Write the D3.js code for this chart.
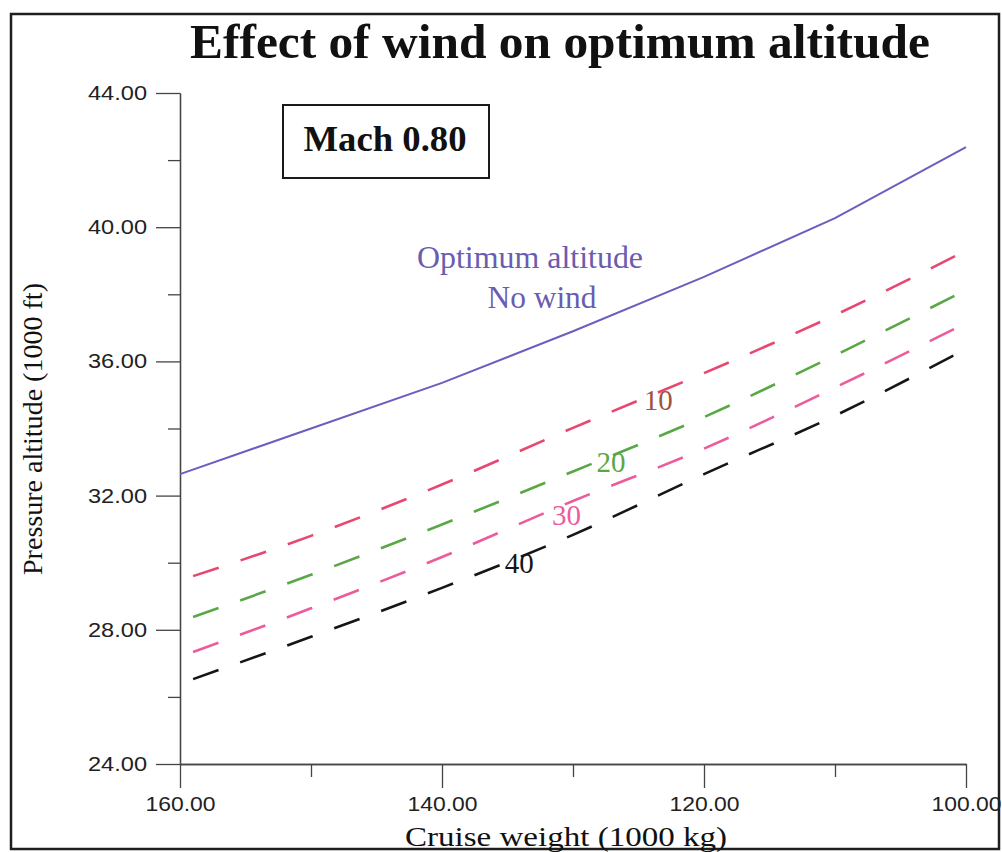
<!DOCTYPE html>
<html>
<head>
<meta charset="utf-8">
<script src="https://cdn.jsdelivr.net/npm/d3@7/dist/d3.min.js"></script>
<style>
  html, body { margin: 0; padding: 0; background: #fff; }
  svg { display: block; }
</style>
</head>
<body>
<svg id="chart" width="1002" height="852"></svg>
<script>
// Cruise weight (1000 kg), plotted heaviest on the left
const weights = [160, 150, 140, 130, 120, 110, 100];
const windWeights = [159, 150, 140, 130, 120, 110, 100];

// Pressure altitude (1000 ft)
const noWind = [32.64, 34.0, 35.36, 36.9, 38.52, 40.27, 42.39];
const wind10 = [29.60, 30.80, 32.33, 34.02, 35.65, 37.38, 39.30];
const wind20 = [28.38, 29.64, 31.14, 32.72, 34.34, 36.18, 38.13];
const wind30 = [27.34, 28.64, 30.17, 31.84, 33.40, 35.22, 37.14];
const wind40 = [26.53, 27.79, 29.25, 30.83, 32.64, 34.38, 36.37];

const windNames = ["10", "20", "30", "40"];
// where each wind label sits, in (weight, altitude)
const windLabelWeight = [123.5, 127.1, 130.5, 134.1];
const windLabelAlt = [34.55, 32.70, 31.12, 29.69];

const yMajorTicks = [24, 28, 32, 36, 40, 44];
const yMinorTicks = [26, 30, 34, 38, 42];
const xMajorTicks = [160, 140, 120, 100];
const xMinorTicks = [150, 130, 110];

const svg = d3.select("#chart");
const serif = "'Liberation Serif', 'Times New Roman', serif";
const sans = "'Liberation Sans', Arial, sans-serif";

const x = d3.scaleLinear().domain([160, 100]).range([180, 966]);
const y = d3.scaleLinear().domain([24, 44]).range([764, 93]);

// outer frame
svg.append("rect")
  .attr("x", 11).attr("y", 14).attr("width", 988).attr("height", 835)
  .attr("fill", "none").attr("stroke", "#1e1e1e").attr("stroke-width", 2.5);

// title
svg.append("text")
  .attr("x", 560).attr("y", 58)
  .attr("text-anchor", "middle")
  .attr("font-family", serif).attr("font-weight", "bold").attr("font-size", 48)
  .attr("textLength", 740).attr("lengthAdjust", "spacingAndGlyphs")
  .attr("fill", "#111")
  .text("Effect of wind on optimum altitude");

// axes
function styleAxis(g) {
  g.selectAll("path, line").attr("stroke", "#444").attr("stroke-width", 1.3);
  g.selectAll("text").attr("fill", "#222")
    .attr("font-family", sans).attr("font-size", 20);
}

const yMinor = svg.append("g").attr("transform", `translate(${x(160)},0)`)
  .call(d3.axisLeft(y).tickValues(yMinorTicks).tickSize(12).tickSizeOuter(0).tickFormat(""));
styleAxis(yMinor);
const yAxis = svg.append("g").attr("transform", `translate(${x(160)},0)`)
  .call(d3.axisLeft(y).tickValues(yMajorTicks).tickSize(24).tickSizeOuter(0)
    .tickPadding(9).tickFormat(d3.format(".2f")));
styleAxis(yAxis);
yAxis.selectAll("text").attr("textLength", 59).attr("lengthAdjust", "spacingAndGlyphs");

const xMinor = svg.append("g").attr("transform", `translate(0,${y(24)})`)
  .call(d3.axisBottom(x).tickValues(xMinorTicks).tickSize(13).tickSizeOuter(0).tickFormat(""));
styleAxis(xMinor);
const xAxis = svg.append("g").attr("transform", `translate(0,${y(24)})`)
  .call(d3.axisBottom(x).tickValues(xMajorTicks).tickSize(24).tickSizeOuter(0)
    .tickPadding(9).tickFormat(d3.format(".2f")));
styleAxis(xAxis);
xAxis.selectAll("text").attr("textLength", 70).attr("lengthAdjust", "spacingAndGlyphs");

// axis titles
svg.append("text")
  .attr("transform", `translate(42,429) rotate(-90)`)
  .attr("text-anchor", "middle")
  .attr("font-family", serif).attr("font-size", 28)
  .attr("textLength", 292).attr("lengthAdjust", "spacingAndGlyphs")
  .attr("fill", "#111")
  .text("Pressure altitude (1000 ft)");

svg.append("text")
  .attr("x", 566).attr("y", 846)
  .attr("text-anchor", "middle")
  .attr("font-family", serif).attr("font-size", 28)
  .attr("textLength", 322).attr("lengthAdjust", "spacingAndGlyphs")
  .attr("fill", "#111")
  .text("Cruise weight (1000 kg)");

// Mach box
svg.append("rect")
  .attr("x", 283).attr("y", 105).attr("width", 206).attr("height", 73)
  .attr("fill", "#fff").attr("stroke", "#1a1a1a").attr("stroke-width", 2);
svg.append("text")
  .attr("x", 385).attr("y", 151)
  .attr("text-anchor", "middle")
  .attr("font-family", serif).attr("font-weight", "bold").attr("font-size", 36)
  .attr("textLength", 163).attr("lengthAdjust", "spacingAndGlyphs")
  .attr("fill", "#111")
  .text("Mach 0.80");

// lines
const line = d3.line()
  .x(d => x(d[0]))
  .y(d => y(d[1]));

svg.append("path")
  .datum(weights.map((w, i) => [w, noWind[i]]))
  .attr("d", line)
  .attr("fill", "none").attr("stroke", "#6a5fbf").attr("stroke-width", 2);

const windSeries = [wind10, wind20, wind30, wind40];
const windColors = ["#e8476f", "#5aa845", "#ec5c9c", "#161616"];
const windLabelColors = ["#9c5443", "#5aa845", "#ec5c9c", "#161616"];

const dashLine = d3.line()
  .x(d => x(d[0]))
  .y(d => y(d[1]))
  .curve(d3.curveMonotoneX);

windSeries.forEach((vals, k) => {
  svg.append("path")
    .datum(windWeights.map((w, i) => [w, vals[i]]))
    .attr("d", dashLine)
    .attr("fill", "none")
    .attr("stroke", windColors[k])
    .attr("stroke-width", 2.6)
    .attr("stroke-dasharray", "27 23");
});

windNames.forEach((name, k) => {
  svg.append("text")
    .attr("x", x(windLabelWeight[k])).attr("y", y(windLabelAlt[k]))
    .attr("text-anchor", "middle")
    .attr("font-family", serif).attr("font-size", 29)
    .attr("fill", windLabelColors[k])
    .text(name);
});

// no-wind label
const noWindLabel = svg.append("g")
  .attr("font-family", serif).attr("font-size", 32)
  .attr("fill", "#6a5cb0").attr("text-anchor", "middle");
noWindLabel.append("text").attr("x", 530).attr("y", 268)
  .attr("textLength", 226).attr("lengthAdjust", "spacingAndGlyphs")
  .text("Optimum altitude");
noWindLabel.append("text").attr("x", 542).attr("y", 308)
  .attr("textLength", 109).attr("lengthAdjust", "spacingAndGlyphs")
  .text("No wind");
</script>
</body>
</html>
